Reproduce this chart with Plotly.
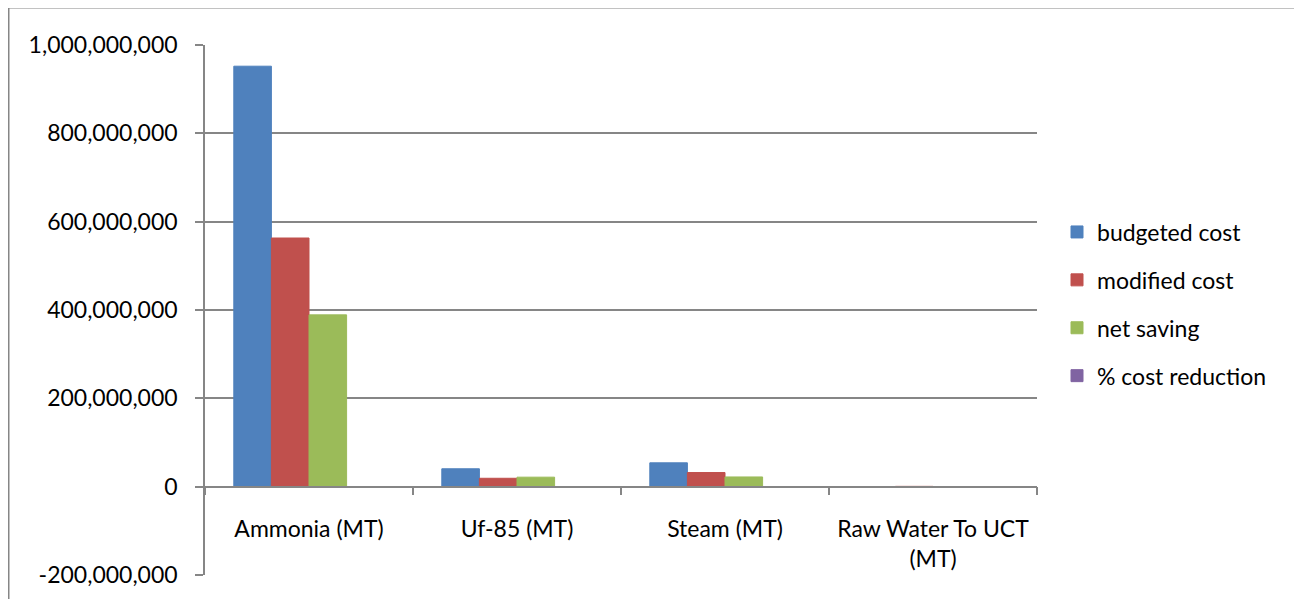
import plotly.graph_objects as go

categories = ["Ammonia (MT)", "Uf-85 (MT)", "Steam (MT)", "Raw Water To UCT<br>(MT)"]
series_names = ["budgeted cost", "modified cost", "net saving", "% cost reduction"]
budgeted_cost = [952000000, 40500000, 54000000, 200000]
modified_cost = [563000000, 19000000, 32000000, 700000]
net_saving = [389000000, 21500000, 22000000, 300000]
pct_cost_reduction = [41, 53, 41, 40]
y_ticks = [-200000000, 0, 200000000, 400000000, 600000000, 800000000, 1000000000]

colors = ["#4F81BD", "#C0504D", "#9BBB59", "#8064A2"]
values = [budgeted_cost, modified_cost, net_saving, pct_cost_reduction]

OFF = 8  # default page body margin
W, H = 1302 - OFF, 599 - OFF
L, R, T, B = 205 - OFF, 1037 - OFF, 45 - OFF, 575 - OFF
FONT = "Lato"
FS = 23

fig = go.Figure()
for i, (name, vals) in enumerate(zip(series_names, values)):
    fig.add_trace(go.Bar(
        x=categories, y=vals, name=name,
        marker=dict(color=colors[i], line=dict(color=colors[i], width=1)),
        legendgroup=f"g{i}",
    ))

ymin, ymax = y_ticks[0], y_ticks[-1]
zero_pos = (0 - ymin) / (ymax - ymin)

def px_x(p):
    return (p - OFF - L) / (R - L)

def px_y(p):
    return (B - (p - OFF)) / (B - T)

fig.update_layout(
    width=W, height=H,
    margin=dict(l=L, r=W - R, t=T, b=H - B, autoexpand=False),
    paper_bgcolor="white", plot_bgcolor="white",
    barmode="group", bargap=0.277, bargroupgap=0,
    font=dict(family=FONT, size=FS, color="black"),
    showlegend=True,
    legend=dict(
        x=px_x(1057), xanchor="left", y=px_y(304), yanchor="middle",
        traceorder="grouped", tracegroupgap=15,
        font=dict(family=FONT, size=FS, color="black"),
        bgcolor="rgba(0,0,0,0)",
    ),
    xaxis=dict(
        type="category",
        categoryorder="array", categoryarray=categories,
        range=[-0.5, len(categories) - 0.5],
        anchor="free", position=zero_pos,
        showline=True, linecolor="#868686", linewidth=1.5,
        ticks="outside", tickson="boundaries", ticklen=8, tickcolor="#868686", tickwidth=1.5,
        showgrid=False, zeroline=False,
        ticklabelstandoff=22,
        tickfont=dict(family=FONT, size=FS, color="black"),
    ),
    yaxis=dict(
        range=[ymin, ymax],
        tickmode="array", tickvals=y_ticks, ticktext=[f"{v:,}" for v in y_ticks],
        showline=True, linecolor="#868686", linewidth=1.5,
        ticks="outside", ticklen=8, tickcolor="#868686", tickwidth=1.5,
        showgrid=True, gridcolor="#868686", gridwidth=1.5,
        zeroline=False,
        ticklabelstandoff=13,
        tickfont=dict(family=FONT, size=FS, color="black"),
    ),
    shapes=[dict(
        type="rect", xref="paper", yref="paper",
        x0=px_x(8.75), x1=px_x(1330), y0=px_y(640), y1=px_y(7.75),
        line=dict(color="#868686", width=1.5), fillcolor="rgba(0,0,0,0)", layer="below",
    )],
)

fig.write_html("out.html")
